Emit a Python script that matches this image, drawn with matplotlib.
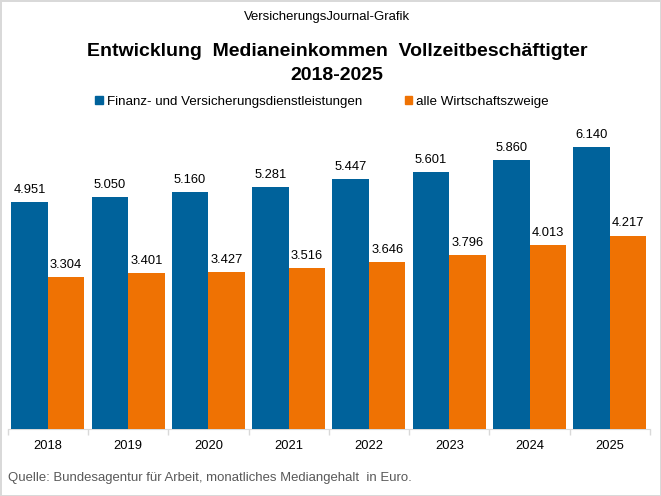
import matplotlib.pyplot as plt
import numpy as np
from matplotlib.patches import Patch

years = ['2018', '2019', '2020', '2021', '2022', '2023', '2024', '2025']
finanz = [4951, 5050, 5160, 5281, 5447, 5601, 5860, 6140]
alle = [3304, 3401, 3427, 3516, 3646, 3796, 4013, 4217]

blue = '#00629B'
orange = '#EF7203'

plt.rcParams['font.family'] = ['Liberation Sans', 'DejaVu Sans']


def de_fmt(v):
    return f"{v:,}".replace(',', '.')


fig = plt.figure(figsize=(6.61, 4.96), dpi=100)
fig.patch.set_edgecolor('#d9d9d9')
fig.patch.set_linewidth(2)

W, H = 661, 496
ax = fig.add_axes([7.6 / W, (H - 429) / H, (650 - 7.6) / W, (429 - 108) / H])

x = np.arange(len(years))
w = 0.455
ax.bar(x - w / 2, finanz, w, color=blue, zorder=3)
ax.bar(x + w / 2, alle, w, color=orange, zorder=3)

for xi, v in zip(x, finanz):
    ax.annotate(de_fmt(v), (xi - w / 2, v), xytext=(0, 4.5), textcoords='offset points',
                ha='center', va='bottom', fontsize=9.3)
for xi, v in zip(x, alle):
    ax.annotate(de_fmt(v), (xi + w / 2, v), xytext=(0, 4.5), textcoords='offset points',
                ha='center', va='bottom', fontsize=9.3)

ax.set_xlim(-0.5, len(years) - 0.5)
ax.set_ylim(0, 7000)
ax.set_yticks([])
ax.set_xticks(x)
ax.set_xticklabels(years, fontsize=9.3)
ax.set_xticks(np.arange(-0.5, len(years)), minor=True)
ax.tick_params(axis='x', which='major', length=0, pad=8)
ax.tick_params(axis='x', which='minor', length=4, color='#d9d9d9', width=1)
for s in ['top', 'right', 'left']:
    ax.spines[s].set_visible(False)
ax.spines['bottom'].set_color('#d9d9d9')

fig.text(327 / W, 1 - 17 / H, 'VersicherungsJournal-Grafik', ha='center', va='center', fontsize=9.45)
fig.text(337 / W, 1 - 52 / H, 'Entwicklung  Medianeinkommen  Vollzeitbeschäftigter',
         ha='center', va='center', fontsize=14, fontweight='bold')
fig.text(337 / W, 1 - 75 / H, '2018-2025', ha='center', va='center', fontsize=14, fontweight='bold')

handles = [Patch(color=blue, label='Finanz- und Versicherungsdienstleistungen'),
           Patch(color=orange, label='alle Wirtschaftszweige')]
fig.legend(handles=handles, loc='center', bbox_to_anchor=(322 / W, 1 - 102 / H), ncol=2,
           frameon=False, fontsize=9.6, handlelength=0.55, handleheight=0.55,
           handletextpad=0.3, columnspacing=3.2)

fig.text(8 / W, 1 - 478 / H, 'Quelle: Bundesagentur für Arbeit, monatliches Mediangehalt  in Euro.',
         ha='left', va='center', fontsize=9.45, color='#595959')

fig.savefig('out.png', dpi=100, edgecolor=fig.get_edgecolor())
